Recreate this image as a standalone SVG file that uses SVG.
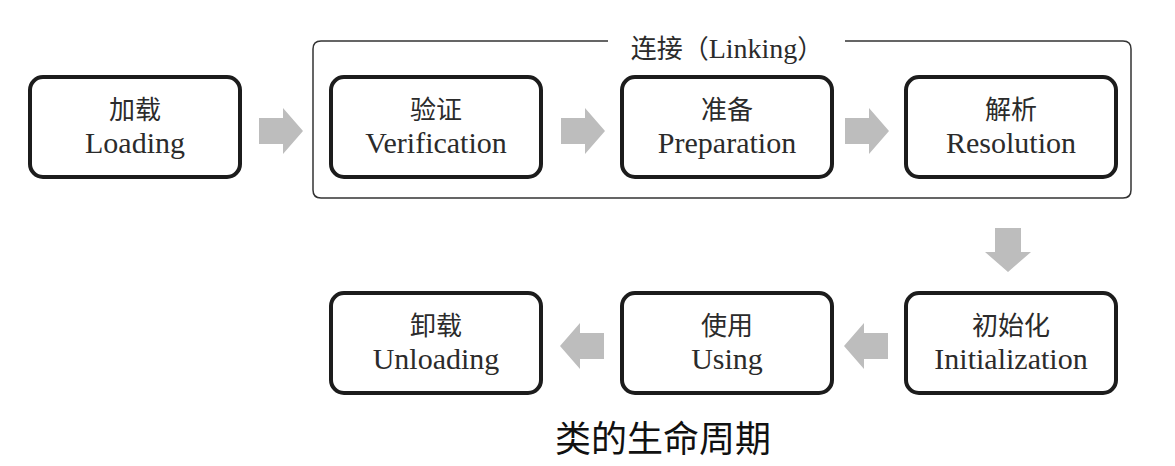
<svg xmlns="http://www.w3.org/2000/svg" width="1175" height="466" viewBox="0 0 1175 466">
<style>
.box{fill:#fff;stroke:#1c1c1c;stroke-width:4}
.zh{font-family:"Noto Sans CJK SC",sans-serif;font-size:26px;fill:#2b2b2b;text-anchor:middle}
.en{font-family:"Liberation Serif",serif;font-size:30px;fill:#2b2b2b;text-anchor:middle}
.arr{fill:#bdbdbd}
</style>
<defs>
<path id="ar" d="M0,-13 H24 V-23 L44,0 L24,23 V13 H0 Z"/>
</defs>
<rect width="1175" height="466" fill="#fff"/>
<g id="linking">
<path d="M608,41 H321 Q313,41 313,49 V190 Q313,198 321,198 H1123 Q1131,198 1131,190 V49 Q1131,41 1123,41 H845" fill="none" stroke="#333" stroke-width="1.5"/>
<text x="727" y="58" font-family="Liberation Serif,'Noto Sans CJK SC',serif" font-size="28" fill="#2b2b2b" text-anchor="middle"><tspan font-family="Noto Sans CJK SC,sans-serif" font-size="26">连接（</tspan>Linking<tspan font-family="Noto Sans CJK SC,sans-serif" font-size="26">）</tspan></text>
</g>
<g id="loading">
<rect class="box" x="30" y="77" width="210" height="100" rx="13"/>
<text class="zh" x="135" y="119">加载</text>
<text class="en" x="135" y="153">Loading</text>
</g>
<g id="verification">
<rect class="box" x="331" y="77" width="210" height="100" rx="13"/>
<text class="zh" x="436" y="119">验证</text>
<text class="en" x="436" y="153">Verification</text>
</g>
<g id="preparation">
<rect class="box" x="622" y="77" width="210" height="100" rx="13"/>
<text class="zh" x="727" y="119">准备</text>
<text class="en" x="727" y="153">Preparation</text>
</g>
<g id="resolution">
<rect class="box" x="906" y="77" width="210" height="100" rx="13"/>
<text class="zh" x="1011" y="119">解析</text>
<text class="en" x="1011" y="153">Resolution</text>
</g>
<g id="unloading">
<rect class="box" x="331" y="293" width="210" height="100" rx="13"/>
<text class="zh" x="436" y="335">卸载</text>
<text class="en" x="436" y="369">Unloading</text>
</g>
<g id="using">
<rect class="box" x="622" y="293" width="210" height="100" rx="13"/>
<text class="zh" x="727" y="335">使用</text>
<text class="en" x="727" y="369">Using</text>
</g>
<g id="initialization">
<rect class="box" x="906" y="293" width="210" height="100" rx="13"/>
<text class="zh" x="1011" y="335">初始化</text>
<text class="en" x="1011" y="369">Initialization</text>
</g>
<g id="connectors" class="arr">
<use href="#ar" transform="translate(259,131)"/>
<use href="#ar" transform="translate(561,131)"/>
<use href="#ar" transform="translate(845,131)"/>
<use href="#ar" transform="translate(1008,228) rotate(90)"/>
<use href="#ar" transform="translate(888,346) rotate(180)"/>
<use href="#ar" transform="translate(604,346) rotate(180)"/>
</g>
<text x="663" y="452" font-family="Noto Sans CJK SC,sans-serif" font-size="36" fill="#111" text-anchor="middle">类的生命周期</text>
</svg>
